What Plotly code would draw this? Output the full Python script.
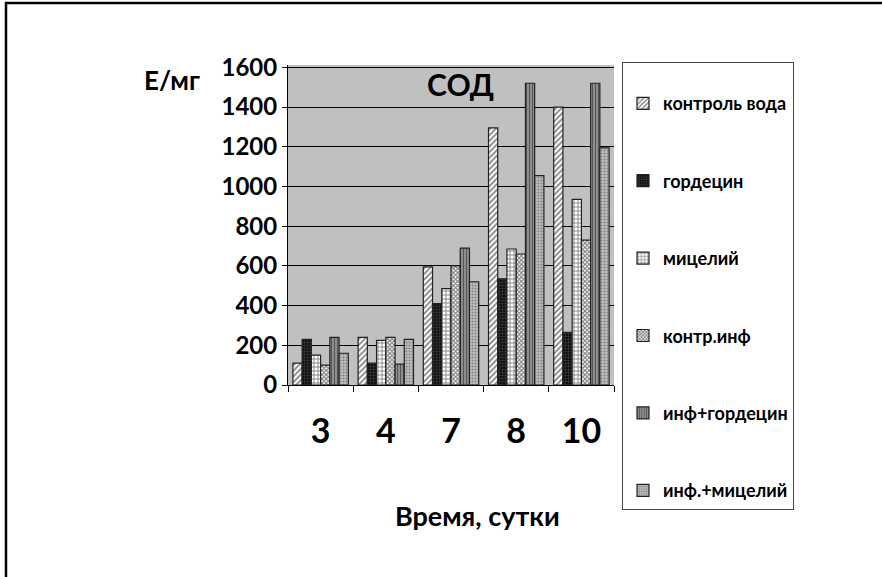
import plotly.graph_objects as go

days = ["3", "4", "7", "8", "10"]
series_names = ["контроль вода", "гордецин", "мицелий", "контр.инф", "инф+гордецин", "инф.+мицелий"]
control_water = [110, 240, 595, 1295, 1400]
hordecin = [230, 110, 410, 535, 265]
mycelium = [150, 225, 485, 685, 935]
control_inf = [100, 240, 600, 660, 730]
inf_hordecin = [240, 105, 690, 1520, 1520]
inf_mycelium = [160, 230, 520, 1055, 1195]
y_ticks = [0, 200, 400, 600, 800, 1000, 1200, 1400, 1600]

values = [control_water, hordecin, mycelium, control_inf, inf_hordecin, inf_mycelium]
patterns = [
    dict(shape="/", bgcolor="white", fgcolor="black", size=4, solidity=0.45),
    dict(shape="+", bgcolor="#111111", fgcolor="#777777", size=3, solidity=0.3),
    dict(shape="+", bgcolor="white", fgcolor="black", size=4, solidity=0.4),
    dict(shape="x", bgcolor="white", fgcolor="black", size=3, solidity=0.6),
    dict(shape="|", bgcolor="#999999", fgcolor="#111111", size=3, solidity=0.45),
    dict(shape=".", bgcolor="#c0c0c0", fgcolor="#444444", size=3, solidity=0.4),
]

FONT = "Lato"
L, R, T, B = 288, 268, 65, 192
W, H = 882, 577
pw = W - L - R
ph = H - T - B

fig = go.Figure()
for i, (name, vals, pat) in enumerate(zip(series_names, values, patterns)):
    fig.add_trace(go.Bar(
        x=days, y=vals, name=name, legendgroup=str(i),
        marker=dict(pattern=pat, color=pat["bgcolor"], line=dict(color="#222222", width=1.2)),
    ))

def px_x(p):
    return (p - L) / pw

def px_y(p):
    return (H - B - p) / ph

fig.update_layout(
    width=W, height=H,
    margin=dict(l=L, r=R, t=T, b=B, autoexpand=False),
    paper_bgcolor="white",
    plot_bgcolor="#c0c0c0",
    barmode="group", bargap=0.15, bargroupgap=0.0,
    font=dict(family=FONT, color="black", weight="bold"),
    showlegend=True,
    legend=dict(
        x=px_x(622), y=1 - 62 / H, xref="paper", yref="container",
        xanchor="left", yanchor="top",
        bordercolor="#444444", borderwidth=1, bgcolor="white",
        font=dict(family=FONT, size=18, weight="bold"),
        tracegroupgap=51, itemwidth=30, maxheight=600,
        title=dict(text=" ", font=dict(size=17)),
    ),
    xaxis=dict(
        type="category", showgrid=False, showline=True, linecolor="black", linewidth=1,
        ticks="outside", tickson="boundaries", ticklen=6, tickcolor="black",
        tickfont=dict(family=FONT, size=34, weight="bold"),
        ticklabelstandoff=16,
    ),
    yaxis=dict(
        range=[0, 1612], tickvals=y_ticks, showgrid=True, gridcolor="black", gridwidth=1,
        showline=True, linecolor="black", linewidth=1,
        ticks="outside", ticklen=5, tickcolor="black",
        tickfont=dict(family=FONT, size=24, weight="bold"),
        zeroline=False,
    ),
    shapes=[
        dict(type="rect", xref="paper", yref="paper",
             x0=px_x(6), x1=px_x(1000), y0=px_y(700), y1=px_y(3),
             line=dict(color="black", width=2.5), fillcolor="rgba(0,0,0,0)", layer="above"),
    ],
    annotations=[
        dict(text="СОД", xref="paper", yref="paper", x=px_x(460), y=px_y(84),
             xanchor="center", yanchor="middle",
             showarrow=False, font=dict(family=FONT, size=30, weight="bold")),
        dict(text="Е/мг", xref="paper", yref="paper", x=px_x(172), y=px_y(80),
             xanchor="center", yanchor="middle",
             showarrow=False, font=dict(family=FONT, size=26, weight="bold")),
        dict(text="Время, сутки", xref="paper", yref="paper", x=px_x(477), y=px_y(515),
             xanchor="center", yanchor="middle",
             showarrow=False, font=dict(family=FONT, size=27, weight="bold")),
    ],
)

fig.write_html("out.html")
